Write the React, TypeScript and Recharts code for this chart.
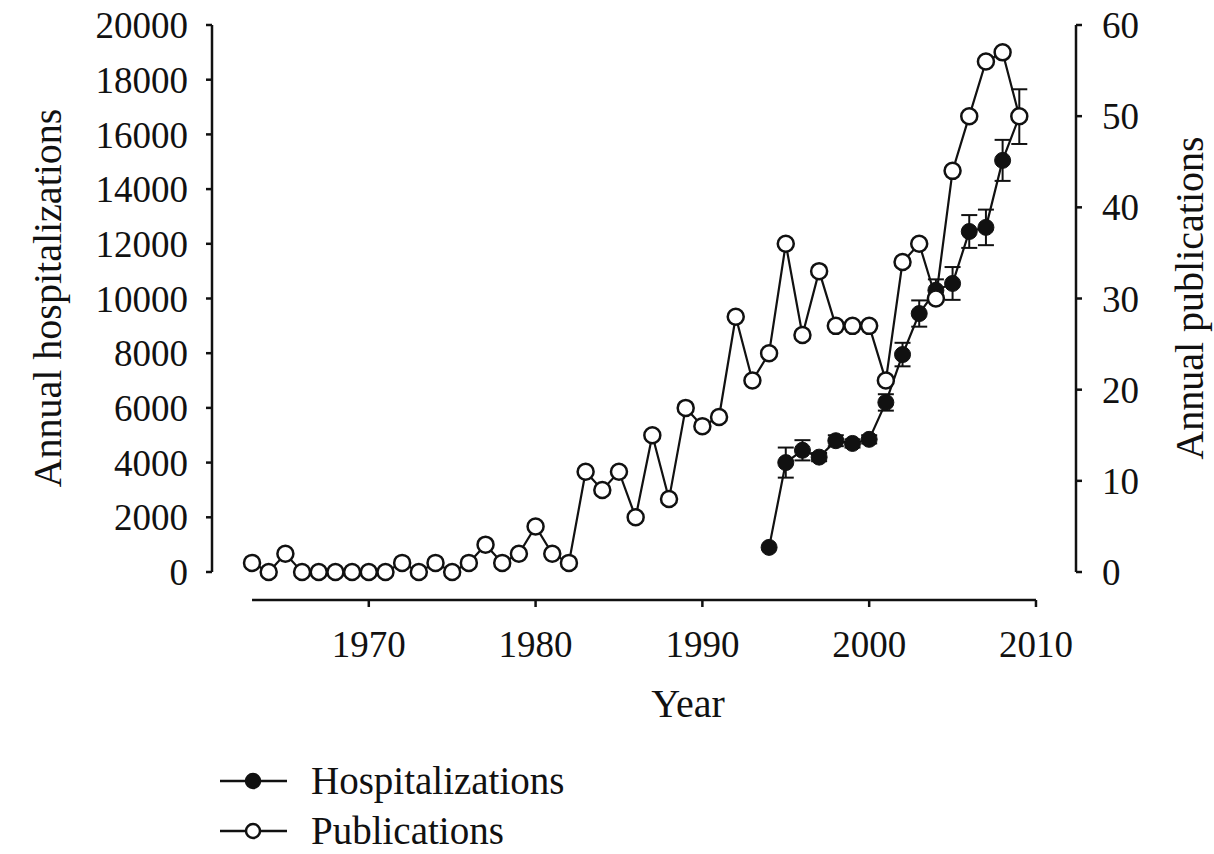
import { LineChart, Line, XAxis, YAxis, ErrorBar, ReferenceLine, Legend } from 'recharts';

const FONT = '"Liberation Serif", "Times New Roman", serif';
const INK = '#111';

// publications per year, 1963-2009 (right axis)
const pubYears = [
    1963, 1964, 1965, 1966, 1967, 1968, 1969, 1970, 1971, 1972, 1973, 1974, 1975, 1976, 1977, 1978,
    1979, 1980, 1981, 1982, 1983, 1984, 1985, 1986, 1987, 1988, 1989, 1990, 1991, 1992, 1993, 1994,
    1995, 1996, 1997, 1998, 1999, 2000, 2001, 2002, 2003, 2004, 2005, 2006, 2007, 2008, 2009,
];
const publications = [
    1, 0, 2, 0, 0, 0, 0, 0, 0, 1, 0, 1, 0, 1, 3, 1,
    2, 5, 2, 1, 11, 9, 11, 6, 15, 8, 18, 16, 17, 28, 21, 24,
    36, 26, 33, 27, 27, 27, 21, 34, 36, 30, 44, 50, 56, 57, 50,
];

// hospitalizations per year, 1994-2009 (left axis), with error
const hospYears = [1994, 1995, 1996, 1997, 1998, 1999, 2000, 2001, 2002, 2003, 2004, 2005, 2006, 2007, 2008, 2009];
const hospitalizations = [900, 4000, 4450, 4200, 4800, 4700, 4850, 6200, 7950, 9450, 10300, 10550, 12450, 12600, 15050, 16650];
const hospError = [0, 550, 370, 150, 200, 150, 150, 300, 430, 480, 400, 600, 600, 650, 750, 1000];

const yearTicks = [1970, 1980, 1990, 2000, 2010];
const leftTicks = [0, 2000, 4000, 6000, 8000, 10000, 12000, 14000, 16000, 18000, 20000];
const rightTicks = [0, 10, 20, 30, 40, 50, 60];

// axes sit a little away from the data area, so the domains are padded
const xMin = 1963 - 2.4;
const xMax = 2010 + 2.4;
const leftMin = -1024;
const rightMin = -3.07;

const pubData = pubYears.map((year, i) => ({ year, publications: publications[i] }));
const hospData = hospYears.map((year, i) => ({ year, hospitalizations: hospitalizations[i], err: hospError[i] }));

const tickStyle = { fontSize: 37, fill: INK, fontFamily: FONT };

function renderLegend(props: any) {
    const items = props.payload || [];
    return (
        <div style={{ fontFamily: FONT, fontSize: 39, color: INK }}>
            {items.map((item: any) => (
                <div key={item.value} style={{ display: 'flex', alignItems: 'center', height: 50 }}>
                    <svg width={70} height={20}>
                        <line x1={0} y1={10} x2={67} y2={10} stroke={INK} strokeWidth={2.5} />
                        <circle cx={33} cy={10} r={7} fill={item.dataKey === 'hospitalizations' ? INK : '#fff'} stroke={INK} strokeWidth={2.5} />
                    </svg>
                    <span style={{ marginLeft: 21, lineHeight: '34px' }}>{item.value}</span>
                </div>
            ))}
        </div>
    );
}

export default function App() {
    return (
        <div style={{ position: 'absolute', left: 0, top: 0, width: 1214, height: 854, background: '#fff' }}>
            <LineChart width={1214} height={854} margin={{ top: 25, right: 0, bottom: 124, left: 0 }}>
                <XAxis
                    type="number"
                    dataKey="year"
                    domain={[xMin, xMax]}
                    allowDataOverflow
                    ticks={yearTicks}
                    height={130}
                    axisLine={false}
                    tickLine={{ stroke: INK, strokeWidth: 2.5 }}
                    tickSize={7}
                    tickMargin={24}
                    tick={tickStyle}
                    label={{
                        content: ({ viewBox }: any) => (
                            <text x={viewBox.x + viewBox.width / 2 + 44} y={viewBox.y + 117} textAnchor="middle" fontSize={40} fontFamily={FONT} fill={INK}>
                                Year
                            </text>
                        ),
                    }}
                />
                <YAxis
                    yAxisId="left"
                    domain={[leftMin, 20000]}
                    allowDataOverflow
                    ticks={leftTicks}
                    width={212}
                    axisLine={false}
                    tickLine={{ stroke: INK, strokeWidth: 2.5 }}
                    tickSize={6}
                    tickMargin={18}
                    tick={tickStyle}
                    interval={0}
                    label={{
                        content: () => (
                            <text x={61} y={298} transform="rotate(-90, 61, 298)" textAnchor="middle" fontSize={40} fontFamily={FONT} fill={INK}>
                                Annual hospitalizations
                            </text>
                        ),
                    }}
                />
                <YAxis
                    yAxisId="right"
                    orientation="right"
                    domain={[rightMin, 60]}
                    allowDataOverflow
                    ticks={rightTicks}
                    width={138}
                    axisLine={false}
                    tickLine={{ stroke: INK, strokeWidth: 2.5 }}
                    tickSize={6}
                    tickMargin={20}
                    tick={tickStyle}
                    interval={0}
                    label={{
                        content: () => (
                            <text x={1203} y={298} transform="rotate(-90, 1203, 298)" textAnchor="middle" fontSize={40} fontFamily={FONT} fill={INK}>
                                Annual publications
                            </text>
                        ),
                    }}
                />

                {/* axis lines, drawn as segments so they stop where the reference stops */}
                <ReferenceLine yAxisId="left" segment={[{ x: 1963, y: leftMin }, { x: 2010, y: leftMin }]} stroke={INK} strokeWidth={2.5} ifOverflow="visible" />
                <ReferenceLine yAxisId="left" segment={[{ x: xMin, y: 0 }, { x: xMin, y: 20000 }]} stroke={INK} strokeWidth={2.5} ifOverflow="visible" />
                <ReferenceLine yAxisId="right" segment={[{ x: xMax, y: 0 }, { x: xMax, y: 60 }]} stroke={INK} strokeWidth={2.5} ifOverflow="visible" />

                <Line
                    yAxisId="left"
                    data={hospData}
                    dataKey="hospitalizations"
                    name="Hospitalizations"
                    stroke={INK}
                    strokeWidth={2.2}
                    dot={{ r: 8, fill: INK, stroke: INK, strokeWidth: 1 }}
                    isAnimationActive={false}
                >
                    <ErrorBar dataKey="err" direction="y" width={8} stroke={INK} strokeWidth={2} />
                </Line>
                <Line
                    yAxisId="right"
                    data={pubData}
                    dataKey="publications"
                    name="Publications"
                    stroke={INK}
                    strokeWidth={2.2}
                    dot={{ r: 8, fill: '#fff', stroke: INK, strokeWidth: 2.5 }}
                    isAnimationActive={false}
                />

                <Legend
                    layout="horizontal"
                    verticalAlign="middle"
                    align="center"
                    content={renderLegend}
                    wrapperStyle={{ left: 220, top: 756, width: 'auto', height: 'auto' }}
                />
            </LineChart>
        </div>
    );
}
